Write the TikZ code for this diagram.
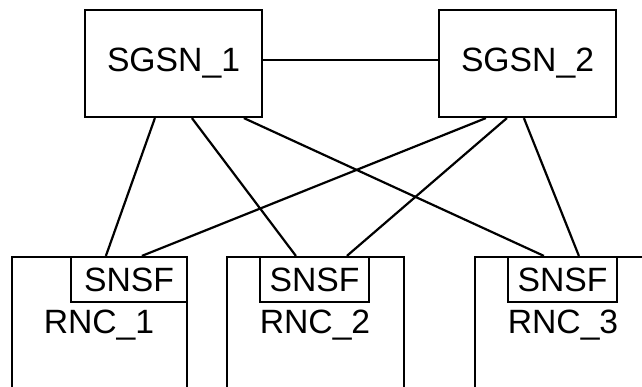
\documentclass[tikz,border=0pt]{standalone}
\usepackage{fontspec}
\setmainfont{Liberation Sans}
\usetikzlibrary{arrows}

\tikzset{
  sgsnbox/.style={draw, line width=2.2pt, minimum width=177pt, minimum height=107pt, inner sep=0pt},
  snsfbox/.style={draw, line width=2.2pt, minimum height=45pt, inner sep=0pt},
  link/.style={line width=2.2pt}
}

\begin{document}
\begin{tikzpicture}[x=1pt,y=-1pt,font=\fontsize{33.7}{40}\selectfont]

    \useasboundingbox (0,0) rectangle (642,387);

    %SGSN
    \node[sgsnbox] (sgsn1) at (173.5,63.5) {SGSN\_1};
    \node[sgsnbox] (sgsn2) at (527.5,63.5) {SGSN\_2};
    \draw[link] ([yshift=3.5pt]sgsn1.east) -- ([yshift=3.5pt]sgsn2.west);

    %RNC_1
    \draw[link] (12,390) |- (187,257) -- (187,390);
    \node[snsfbox, minimum width=116pt] (snsf1) at (129,279.5) {SNSF};
    \node[anchor=base] (rnc1) at (99,333) {RNC\_1};
    %RNC_2
    \draw[link] (227,390) |- (404,257) -- (404,390);
    \node[snsfbox, minimum width=109pt] (snsf2) at (314.5,279.5) {SNSF};
    \node[anchor=base] (rnc2) at (315,333) {RNC\_2};
    %RNC_3
    \draw[link] (475,390) |- (650,257);
    \node[snsfbox, minimum width=109pt] (snsf3) at (562.5,279.5) {SNSF};
    \node[anchor=base] (rnc3) at (563,333) {RNC\_3};

    %SGSN_1 -- SNSF
    \draw[link] ([xshift=71pt]sgsn1.south west) -- ([xshift=36pt]snsf1.north west);
    \draw[link] ([xshift=108pt]sgsn1.south west) -- ([xshift=37pt]snsf2.north west);
    \draw[link] ([xshift=160pt]sgsn1.south west) -- ([xshift=37pt]snsf3.north west);
    %SGSN_2 -- SNSF
    \draw[link] ([xshift=48pt]sgsn2.south west) -- ([xshift=72pt]snsf1.north west);
    \draw[link] ([xshift=69pt]sgsn2.south west) -- ([xshift=88pt]snsf2.north west);
    \draw[link] ([xshift=86pt]sgsn2.south west) -- ([xshift=72pt]snsf3.north west);

  \end{tikzpicture}
\end{document}
